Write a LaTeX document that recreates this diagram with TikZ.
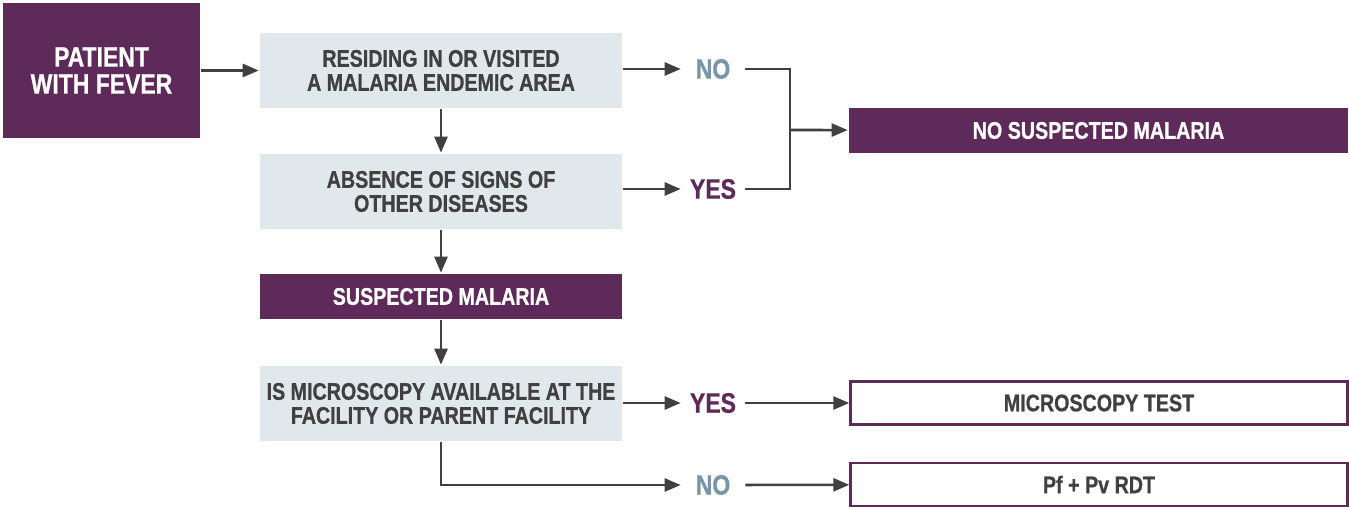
\documentclass[tikz,border=0pt]{standalone}
\usepackage{fontspec}
\setmainfont{Liberation Sans}[FakeStretch=0.82,FakeBold=0.8]
\usepackage{xcolor}
\usetikzlibrary{arrows.meta}
\definecolor{plum}{HTML}{5E2A59}
\definecolor{mist}{HTML}{E1E8EC}
\definecolor{slate}{HTML}{7896A6}
\definecolor{ink}{HTML}{404040}
\tikzset{> = {Triangle[length=16pt,width=13pt]}}
\tikzset{
	query/.style={fill=mist,text=ink,minimum width=362pt,minimum height=75pt,inner sep=0,align=center,font=\bfseries\fontsize{24}{24}\selectfont},
	verdict/.style={fill=plum,text=white,inner sep=0,align=center,font=\bfseries\fontsize{24}{24}\selectfont},
	testbox/.style={draw=plum,line width=2.4pt,text=ink,minimum width=497pt,minimum height=43pt,inner sep=0,font=\bfseries\fontsize{24}{24}\selectfont},
	answer/.style={minimum width=62pt,inner sep=0,font=\bfseries\fontsize{28}{28}\selectfont}
}

\begin{document}
\begin{tikzpicture}[x=1pt,y=-1pt,line width=2.6pt]
	\useasboundingbox (0,0) rectangle (1349,510);
	\node[verdict,minimum width=197pt,minimum height=135pt,font=\bfseries\fontsize{28}{27}\selectfont] (fever) at (101.5,70.5){PATIENT\\WITH FEVER};
	\node[query] (endemic) at (441,70.5){RESIDING IN OR VISITED\\A MALARIA ENDEMIC AREA};
	\node[query] (othersigns) at (441,191.5){ABSENCE OF SIGNS OF\\OTHER DISEASES};
	\node[verdict,minimum width=362pt,minimum height=45pt] (suspected) at (441,296.5){SUSPECTED MALARIA};
	\node[query] (microscopy) at (441,403.5){IS MICROSCOPY AVAILABLE AT THE\\FACILITY OR PARENT FACILITY};
	\node[answer,text=slate] (no1) at (713,69){NO};
	\node[answer,text=plum] (yes1) at (713,189){YES};
	\node[answer,text=plum] (yes2) at (713,403){YES};
	\node[answer,text=slate] (no2) at (713,485){NO};
	\node[verdict,minimum width=499pt,minimum height=45pt] (nosuspect) at (1098.5,130.5){NO SUSPECTED MALARIA};
	\node[testbox] (mtest) at (1099,403){MICROSCOPY TEST};
	\node[testbox] (rdt) at (1099,484.5){Pf + Pv RDT};
	\coordinate (join) at (790,130);
	\coordinate (bend) at (microscopy.south |- no2);
	\begin{scope}[draw=ink]
	\draw[->] (fever.east |- endemic) -- (endemic);
	\draw[->] (endemic.east |- no1) -- (no1);
	\draw[->] (endemic) -- (othersigns);
	\draw[->] (othersigns.east |- yes1) -- (yes1);
	\draw[->] (othersigns) -- (suspected);
	\draw[->] (suspected) -- (microscopy);
	\draw (no1.east) -| (join) |- (yes1.east);
	\draw[->] (join) -- (nosuspect);
	\draw[->] (microscopy.east |- yes2) -- (yes2);
	\draw[->] (yes2) -- (mtest);
	\draw[->] (microscopy.south) -- (bend) -- (no2);
	\draw[->] (no2) -- (rdt);
	\end{scope}
\end{tikzpicture}
\end{document}
